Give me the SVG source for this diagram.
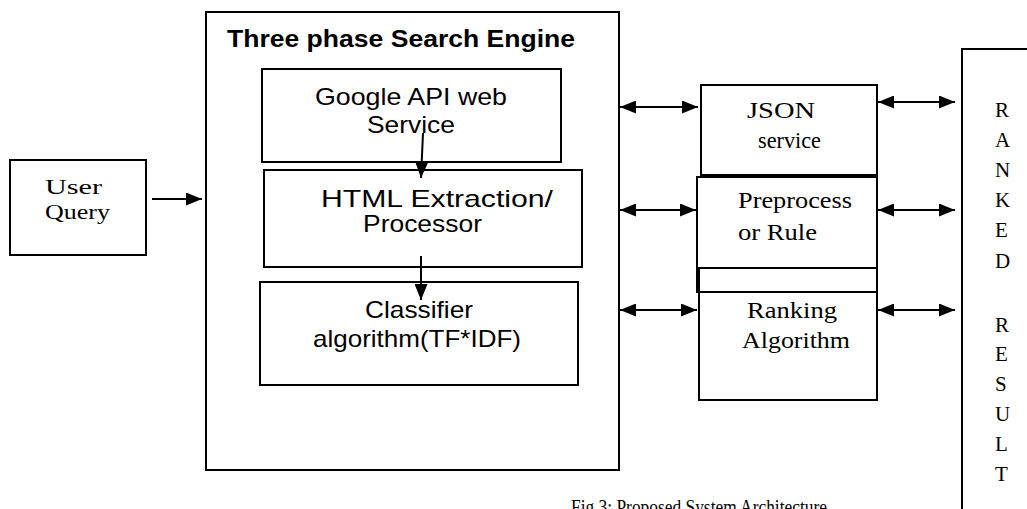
<svg xmlns="http://www.w3.org/2000/svg" width="1027" height="509" viewBox="0 0 1027 509">
<style>
.box{fill:none;stroke:#000;stroke-width:2}
.sans{font-family:"Liberation Sans",Arial,sans-serif;font-size:24px;fill:#000}
.bold{font-family:"Liberation Sans",Arial,sans-serif;font-size:24px;font-weight:bold;fill:#000}
.serif{font-family:"Liberation Serif","Times New Roman",serif;font-size:24px;fill:#000}
.small{font-size:22px}
.letter{font-family:"Liberation Serif","Times New Roman",serif;font-size:21px;fill:#000}
.caption{font-family:"Liberation Serif","Times New Roman",serif;font-size:20px;fill:#000}
.conn{stroke:#000;stroke-width:2;fill:none}
</style>
<defs>
<marker id="ah" markerUnits="userSpaceOnUse" markerWidth="17" markerHeight="13" refX="16" refY="6.5" orient="auto-start-reverse">
<path d="M0,0 L16,6.5 L0,13 z" fill="#000"/>
</marker>
</defs>
<rect width="1027" height="509" fill="#fff"/>

<g id="user-query">
<rect class="box" x="10" y="160" width="136" height="95"/>
<text class="serif small" x="45" y="194" textLength="57" lengthAdjust="spacingAndGlyphs">User</text>
<text class="serif small" x="45" y="219" textLength="65" lengthAdjust="spacingAndGlyphs">Query</text>
</g>

<g id="search-engine">
<rect class="box" x="206" y="12" width="413" height="458"/>
<text class="bold" x="227" y="47" textLength="348" lengthAdjust="spacingAndGlyphs">Three phase Search Engine</text>
</g>

<g id="google-api">
<rect class="box" x="262" y="69" width="299" height="93"/>
<text class="sans" x="315" y="105" textLength="192" lengthAdjust="spacingAndGlyphs">Google API web</text>
<text class="sans" x="367" y="133" textLength="88" lengthAdjust="spacingAndGlyphs">Service</text>
</g>

<g id="html-extraction">
<rect class="box" x="264" y="170" width="318" height="97"/>
<text class="sans" x="321" y="207" textLength="232" lengthAdjust="spacingAndGlyphs">HTML Extraction/</text>
<text class="sans" x="363" y="232" textLength="119" lengthAdjust="spacingAndGlyphs">Processor</text>
</g>

<g id="classifier">
<rect class="box" x="260" y="282" width="318" height="103"/>
<text class="sans" x="365" y="318" textLength="108" lengthAdjust="spacingAndGlyphs">Classifier</text>
<text class="sans" x="313" y="347" textLength="208" lengthAdjust="spacingAndGlyphs">algorithm(TF*IDF)</text>
</g>

<g id="json-service">
<rect class="box" x="701" y="85" width="176" height="90"/>
<text class="serif" x="747" y="118" textLength="68" lengthAdjust="spacingAndGlyphs">JSON</text>
<text class="serif" x="758" y="148" textLength="63" lengthAdjust="spacingAndGlyphs">service</text>
</g>

<g id="preprocessor-rule">
<rect class="box" x="697" y="177" width="180" height="115"/>
<text class="serif" x="738" y="208" textLength="114" lengthAdjust="spacingAndGlyphs">Preprocess</text>
<text class="serif" x="738" y="240" textLength="79" lengthAdjust="spacingAndGlyphs">or Rule</text>
</g>

<g id="ranking-algorithm">
<rect class="box" x="699" y="268" width="178" height="132"/>
<text class="serif" x="747" y="318" textLength="90" lengthAdjust="spacingAndGlyphs">Ranking</text>
<text class="serif" x="742" y="348" textLength="108" lengthAdjust="spacingAndGlyphs">Algorithm</text>
</g>

<g id="ranked-result">
<rect class="box" x="962" y="49" width="100" height="480"/>
<g class="letter">
<text x="995" y="117">R</text>
<text x="995" y="147">A</text>
<text x="995" y="177">N</text>
<text x="995" y="207">K</text>
<text x="995" y="237">E</text>
<text x="995" y="268">D</text>
<text x="995" y="332">R</text>
<text x="995" y="361">E</text>
<text x="995" y="391">S</text>
<text x="995" y="421">U</text>
<text x="995" y="451">L</text>
<text x="995" y="481">T</text>
</g>
</g>

<g id="connectors">
<line class="conn" x1="152" y1="199" x2="202" y2="199" marker-end="url(#ah)"/>
<line class="conn" x1="423" y1="133" x2="421" y2="178" marker-end="url(#ah)"/>
<line class="conn" x1="421" y1="256" x2="421" y2="300" marker-end="url(#ah)"/>
<line class="conn" x1="620" y1="107" x2="698" y2="107" marker-start="url(#ah)" marker-end="url(#ah)"/>
<line class="conn" x1="620" y1="210" x2="696" y2="210" marker-start="url(#ah)" marker-end="url(#ah)"/>
<line class="conn" x1="620" y1="310" x2="697" y2="310" marker-start="url(#ah)" marker-end="url(#ah)"/>
<line class="conn" x1="878" y1="102" x2="955" y2="102" marker-start="url(#ah)" marker-end="url(#ah)"/>
<line class="conn" x1="878" y1="210" x2="955" y2="210" marker-start="url(#ah)" marker-end="url(#ah)"/>
<line class="conn" x1="878" y1="310" x2="955" y2="310" marker-start="url(#ah)" marker-end="url(#ah)"/>
</g>

<text class="caption" x="571" y="514" textLength="256" lengthAdjust="spacingAndGlyphs">Fig 3: Proposed System Architecture</text>
</svg>
